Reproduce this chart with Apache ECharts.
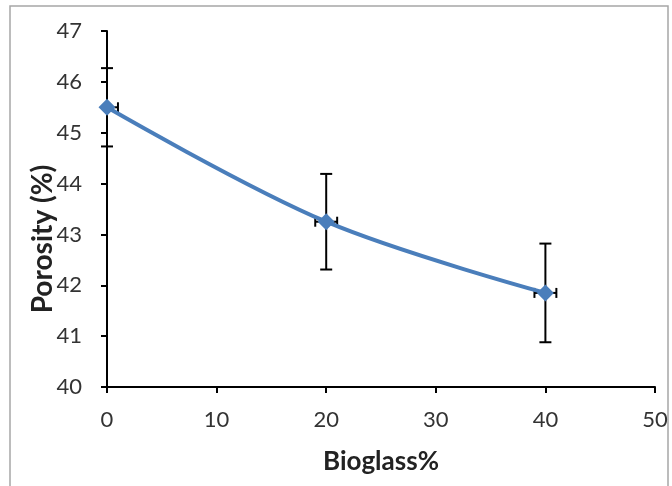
<!DOCTYPE html>
<html>
<head>
<meta charset="utf-8">
<script src="https://cdn.jsdelivr.net/npm/echarts@6/dist/echarts.min.js"></script>
<style>
  html, body { margin: 0; padding: 0; background: #fff; }
  #chart { width: 672px; height: 486px; }
</style>
</head>
<body>
<div id="chart"></div>
<script>
// values
const bioglass = [0, 20, 40];
const porosity = [45.5, 43.25, 41.85];
const porosityErr = [0.77, 0.94, 0.97];
const bioglassErr = [1, 1, 1];

const chart = echarts.init(document.getElementById('chart'));

const errData = bioglass.map((x, i) => [x, porosity[i], porosityErr[i], bioglassErr[i]]);

const option = {
  animation: false,
  backgroundColor: '#fff',
  graphic: [{
    type: 'rect',
    shape: { x: 10, y: 6, width: 658, height: 490 },
    style: { fill: 'none', stroke: '#a6a6a6', lineWidth: 1.5 },
    silent: true
  }],
  grid: { left: 107, right: 17, top: 31, bottom: 99 },
  xAxis: {
    type: 'value',
    min: 0, max: 50, interval: 10,
    name: 'Bioglass%',
    nameLocation: 'middle',
    nameGap: 62,
    nameTextStyle: { fontFamily: 'Lato', fontSize: 26, fontWeight: 'bold', color: '#222' },
    axisLine: { lineStyle: { color: '#000', width: 2 } },
    axisTick: { show: true, length: 6, lineStyle: { color: '#000', width: 2 } },
    axisLabel: { fontFamily: 'Lato', fontSize: 22, color: '#333', margin: 22 },
    splitLine: { show: false }
  },
  yAxis: {
    type: 'value',
    min: 40, max: 47, interval: 1,
    name: 'Porosity (%)',
    nameLocation: 'middle',
    nameGap: 50,
    nameRotate: 90,
    nameMoveOverlap: false,
    nameTextStyle: { fontFamily: 'Lato', fontSize: 28, fontWeight: 'bold', color: '#222', padding: [0, 60, 0, 0] },
    axisLine: { show: true, lineStyle: { color: '#000', width: 2 } },
    axisTick: { show: true, length: 6, lineStyle: { color: '#000', width: 2 } },
    axisLabel: { fontFamily: 'Lato', fontSize: 22, color: '#333', margin: 25 },
    splitLine: { show: false }
  },
  series: [
    {
      type: 'custom',
      z: 1,
      data: errData,
      renderItem: (params, api) => {
        const x = api.value(0), y = api.value(1), ey = api.value(2), ex = api.value(3);
        const top = api.coord([x, y + ey]);
        const bot = api.coord([x, y - ey]);
        const xl = Math.max(x - ex, 0);
        const left = api.coord([xl, y]);
        const right = api.coord([x + ex, y]);
        const st = { stroke: '#000', lineWidth: 2 };
        const cap = 6;
        const kids = [
          { type: 'line', shape: { x1: top[0], y1: top[1], x2: bot[0], y2: bot[1] }, style: st },
          { type: 'line', shape: { x1: top[0] - cap, y1: top[1], x2: top[0] + cap, y2: top[1] }, style: st },
          { type: 'line', shape: { x1: bot[0] - cap, y1: bot[1], x2: bot[0] + cap, y2: bot[1] }, style: st },
          { type: 'line', shape: { x1: left[0], y1: left[1], x2: right[0], y2: right[1] }, style: st },
          { type: 'line', shape: { x1: right[0], y1: right[1] - 5, x2: right[0], y2: right[1] + 5 }, style: st }
        ];
        if (xl === x - ex) {
          kids.push({ type: 'line', shape: { x1: left[0], y1: left[1] - 5, x2: left[0], y2: left[1] + 5 }, style: st });
        }
        return { type: 'group', children: kids };
      }
    },
    {
      type: 'line',
      z: 3,
      data: bioglass.map((x, i) => [x, porosity[i]]),
      smooth: 0.35,
      symbol: 'diamond',
      symbolSize: 17,
      lineStyle: { color: '#4a7ebb', width: 4 },
      itemStyle: { color: '#4a7ebb' }
    }
  ]
};

chart.setOption(option);
</script>
</body>
</html>
